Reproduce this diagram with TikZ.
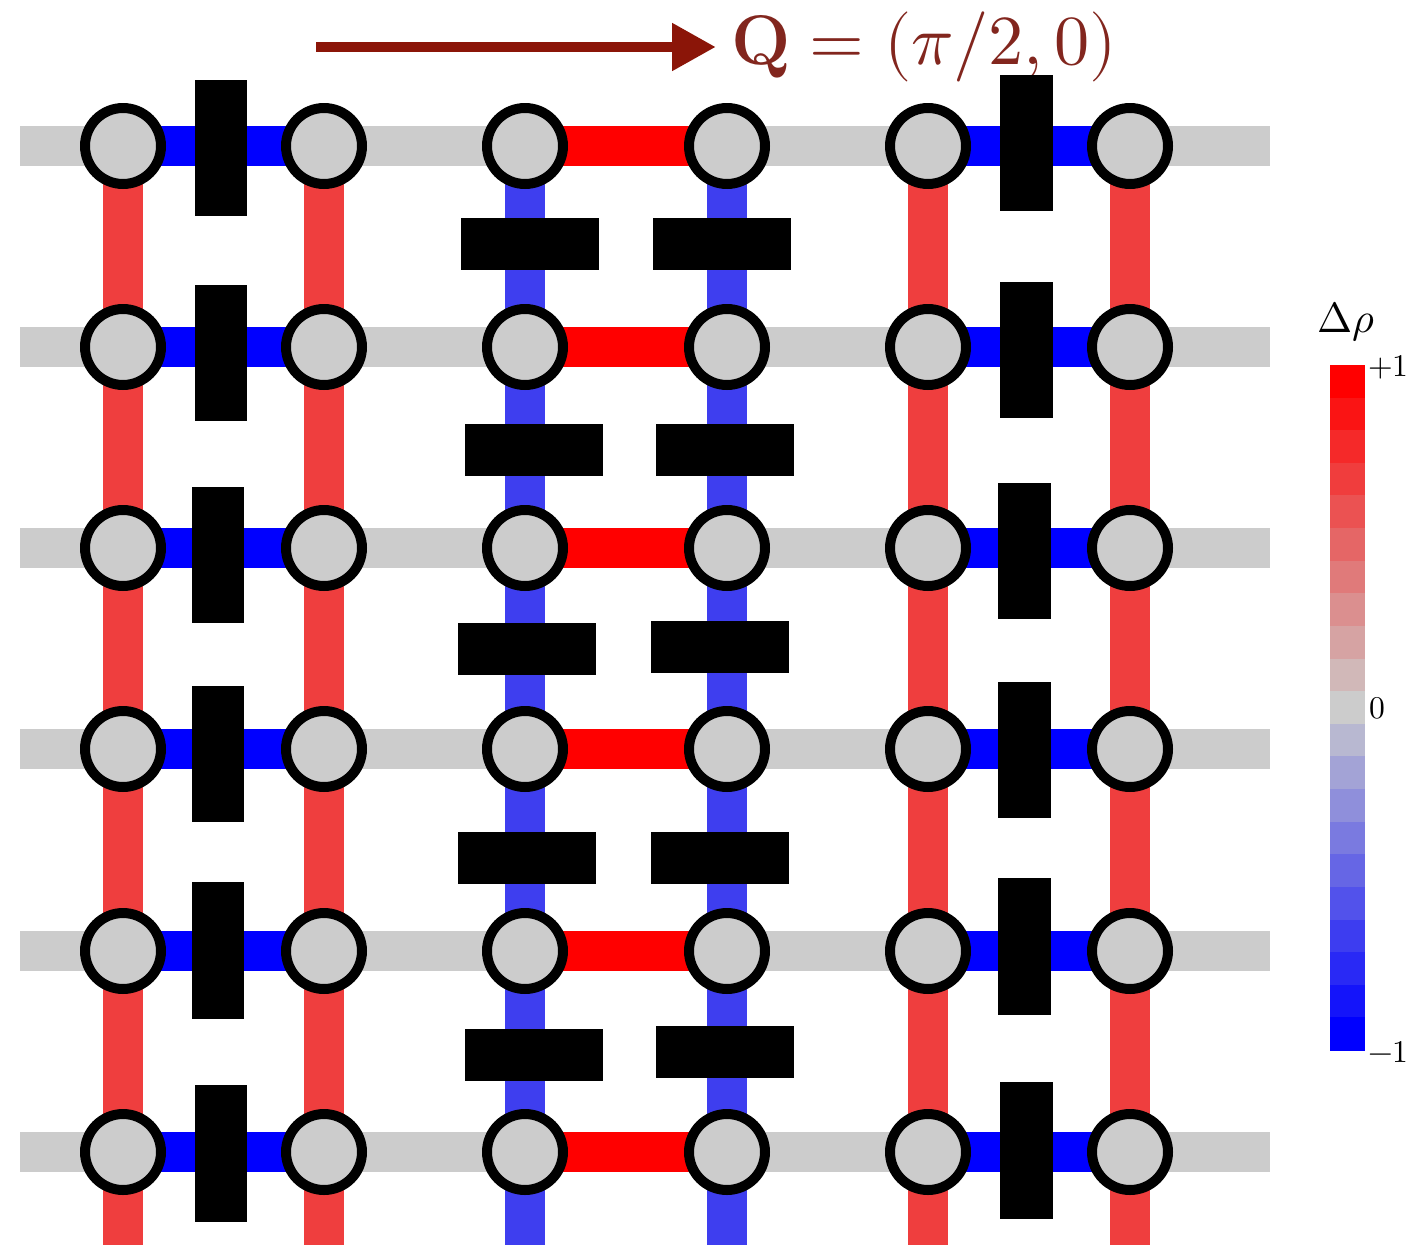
\documentclass[tikz,border=0pt]{standalone}
\usepackage{unicode-math}
\setmathfont{Latin Modern Math}
\usetikzlibrary{arrows.meta}
\definecolor{sitegray}{RGB}{204,204,204}
\definecolor{bondred}{RGB}{255,0,0}
\definecolor{bondblue}{RGB}{0,0,255}
\definecolor{legred}{RGB}{239,62,62}
\definecolor{legblue}{RGB}{62,62,239}
\definecolor{qarrow}{RGB}{139,21,8}
\definecolor{qtext}{RGB}{130,38,30}
\pgfdeclarelayer{bonds}
\pgfsetlayers{bonds,main}
\tikzset{
  site/.style={circle,draw=black,fill=sitegray,line width=0.2cm,minimum size=1.52cm,inner sep=0pt},
  rail/.style={line width=0.8cm,color=sitegray},
  hblue/.style={line width=0.8cm,color=bondblue},
  hred/.style={line width=0.8cm,color=bondred},
  vred/.style={line width=0.8cm,color=legred},
  vblue/.style={line width=0.8cm,color=legblue},
  vblock/.style={fill=black,inner sep=0pt,minimum width=1.06cm,minimum height=2.74cm},
  hblock/.style={fill=black,inner sep=0pt,minimum width=2.78cm,minimum height=1.04cm},
  ticklabel/.style={anchor=west,inner sep=0pt,font=\fontsize{18}{21}\selectfont}
}

\begin{document}
\begin{tikzpicture}[x=0.02cm,y=-0.02cm]
	\useasboundingbox (0,0) rectangle (1416,1244);
	
	% lattice sites
	\foreach \r/\y in {1/146,2/347,3/548,4/749,5/951,6/1152} {
		\coordinate (rl-\r) at (20,\y);
		\coordinate (rr-\r) at (1270,\y);
		\foreach \c/\x in {1/123,2/324,3/525,4/727,5/928,6/1130}
			\node[site] (s-\r-\c) at (\x,\y) {};
	}
	\foreach \c/\x in {1/123,2/324,3/525,4/727,5/928,6/1130}
		\coordinate (bot-\c) at (\x,1252);
	
	% bonds under the sites
	\begin{pgfonlayer}{bonds}
		\foreach \r in {1,...,6}
			\draw[rail] (rl-\r) -- (rr-\r);
		\foreach \c/\sty in {1/vred,2/vred,3/vblue,4/vblue,5/vred,6/vred} {
			\foreach \r [count=\n from 2] in {1,...,5}
				\draw[\sty] (s-\r-\c.center) -- (s-\n-\c.center);
			\draw[\sty] (s-6-\c.center) -- (bot-\c);
		}
		\foreach \r in {1,...,6} {
			\draw[hblue] (s-\r-1.center) -- (s-\r-2.center);
			\draw[hred] (s-\r-3.center) -- (s-\r-4.center);
			\draw[hblue] (s-\r-5.center) -- (s-\r-6.center);
		}
	\end{pgfonlayer}
	
	% wave vector
	\coordinate (qtail) at (316,47);
	\node[anchor=west,inner sep=0.3cm,outer sep=0pt,text=qtext,font=\fontsize{40}{48}\selectfont]
		(qlabel) at (716,47) {$\mathbf{Q}=(\pi/2,0)$};
	\draw[qarrow,line width=0.22cm,-{Triangle[length=0.88cm,width=0.9cm]}] (qtail) -- (qlabel.west);
	
	% dimers
	\foreach \x/\y [count=\n] in {221/148,221/353,218/555,218/754,218/950,221/1153}
		\node[vblock] (vl-\n) at (\x,\y) {};
	\foreach \x/\y [count=\n] in {1026/143,1026/350,1024/551,1024/750,1024/946,1026/1150}
		\node[vblock] (vr-\n) at (\x,\y) {};
	\foreach \x/\y [count=\n] in {530/244,534/450,527/649,527/858,534/1055}
		\node[hblock] (hl-\n) at (\x,\y) {};
	\foreach \x/\y [count=\n] in {722/244,725/450,720/647,720/858,725/1052}
		\node[hblock] (hr-\n) at (\x,\y) {};
	
	% colour bar
	\foreach \i in {0,...,20} {
		\pgfmathtruncatemacro\pct{abs(10-\i)*10}
		\ifnum\i<10 \def\hue{bondred}\else\def\hue{bondblue}\fi
		\fill[\hue!\pct!sitegray] (1330,{365+\i*32.62}) rectangle (1365,{365+(\i+1)*32.62+0.6});
	}
	\node[inner sep=0pt,font=\fontsize{24}{28}\selectfont] (dlabel) at (1346,322) {$\Delta\rho$};
	\node[ticklabel] (tplus) at (1368,367) {$+1$};
	\node[ticklabel] (tzero) at (1369,708) {$0$};
	\node[ticklabel] (tminus) at (1368,1052) {$-1$};
\end{tikzpicture}
\end{document}
